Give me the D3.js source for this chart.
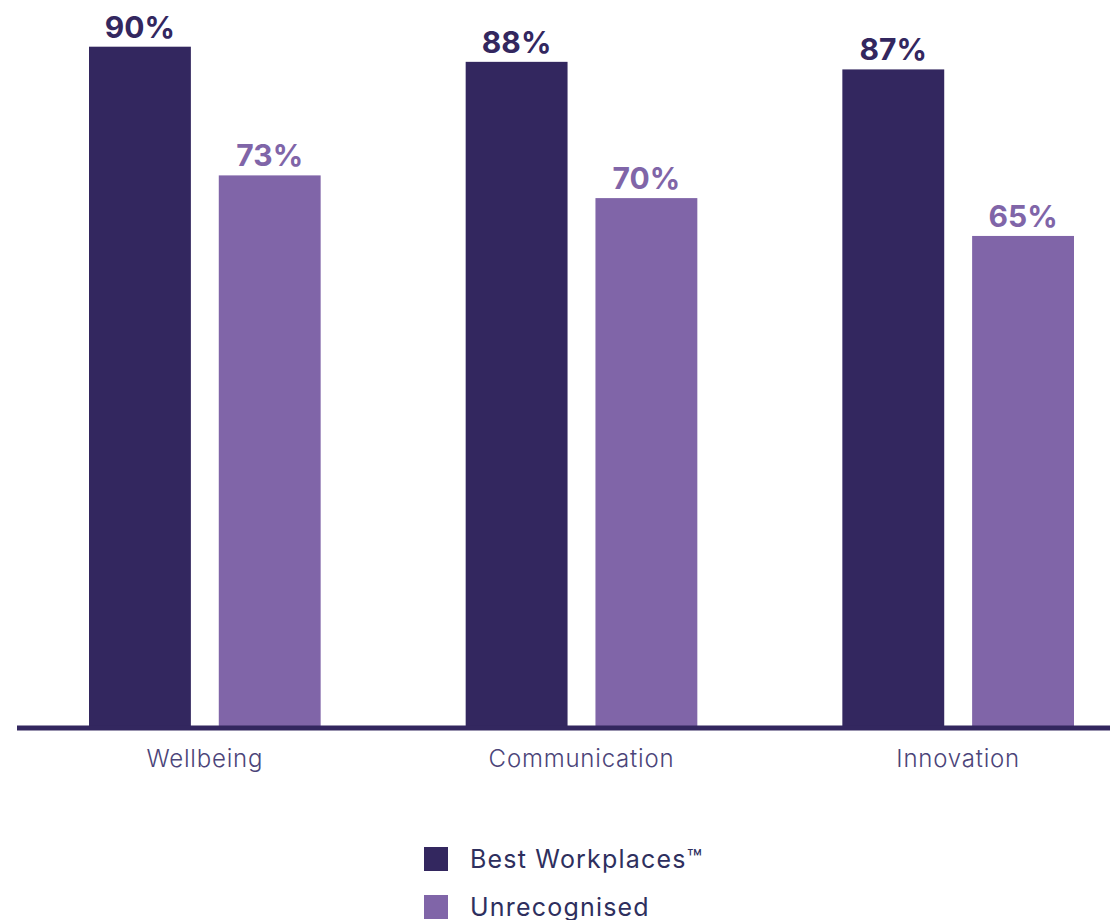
<!DOCTYPE html>
<html>
<head>
<meta charset="utf-8">
<script src="https://cdn.jsdelivr.net/npm/d3@7"></script>
<style>
  html, body { margin: 0; padding: 0; background: #ffffff; }
  svg { display: block; }
</style>
</head>
<body>
<svg id="chart" width="1115" height="920"></svg>
<script>
// Survey results: share of employees agreeing, by theme
const categories = ["Wellbeing", "Communication", "Innovation"];
const seriesNames = ["Best Workplaces™", "Unrecognised"];
const bestWorkplaces = [90, 88, 87];
const unrecognised = [73, 70, 65];
const seriesColors = ["#33275f", "#8065a8"];

const seriesValues = [bestWorkplaces, unrecognised];
const rows = categories.map((c, i) => ({
  category: c,
  values: seriesNames.map((s, j) => ({ series: s, idx: j, value: seriesValues[j][i] }))
}));

const FONT = "Inter, 'Open Sans', sans-serif";
const svg = d3.select("#chart");
const baseline = 728;

const x0 = d3.scaleBand()
  .domain(categories)
  .range([89, 1074])
  .paddingInner(0.385)
  .paddingOuter(0);

const x1 = d3.scaleBand()
  .domain(seriesNames)
  .range([0, x0.bandwidth()])
  .paddingInner(0.215)
  .paddingOuter(0);

const y = d3.scaleLinear()
  .domain([0, 100])
  .range([baseline, baseline - 757]);

const color = d3.scaleOrdinal().domain(seriesNames).range(seriesColors);

// grouped bars
const groups = svg.append("g")
  .selectAll("g")
  .data(rows)
  .join("g")
  .attr("transform", d => `translate(${x0(d.category)},0)`);

groups.selectAll("rect")
  .data(d => d.values)
  .join("rect")
  .attr("x", d => x1(d.series))
  .attr("y", d => y(d.value))
  .attr("width", x1.bandwidth())
  .attr("height", d => y(0) - y(d.value))
  .attr("fill", d => color(d.series));

// value labels above bars
groups.selectAll("text")
  .data(d => d.values)
  .join("text")
  .attr("x", d => x1(d.series) + x1.bandwidth() / 2)
  .attr("y", d => y(d.value) - 9)
  .attr("text-anchor", "middle")
  .attr("font-family", FONT)
  .attr("font-weight", 700)
  .attr("font-size", 30)
  .attr("fill", d => color(d.series))
  .text(d => d.value + "%");

// baseline axis
const xAxis = d3.axisBottom(x0).tickSize(0).tickPadding(22);
const axisG = svg.append("g")
  .attr("transform", `translate(0,${baseline})`)
  .call(xAxis);
axisG.select(".domain").remove();
axisG.selectAll("text")
  .attr("font-family", FONT)
  .attr("font-weight", 300)
  .attr("font-size", 24)
  .attr("letter-spacing", "0.8px")
  .attr("fill", "#4b4479");

svg.append("line")
  .attr("x1", 17)
  .attr("x2", 1110)
  .attr("y1", baseline)
  .attr("y2", baseline)
  .attr("stroke", "#33275f")
  .attr("stroke-width", 5);

// legend
const legend = svg.append("g")
  .selectAll("g")
  .data(seriesNames)
  .join("g")
  .attr("transform", (d, i) => `translate(424,${847 + i * 48})`);

legend.append("rect")
  .attr("width", 24)
  .attr("height", 24)
  .attr("fill", d => color(d));

legend.append("text")
  .attr("x", 46)
  .attr("y", 21)
  .attr("font-family", FONT)
  .attr("font-size", 25)
  .attr("letter-spacing", "1.2px")
  .attr("fill", "#2e2f5e")
  .text(d => d);
</script>
</body>
</html>
